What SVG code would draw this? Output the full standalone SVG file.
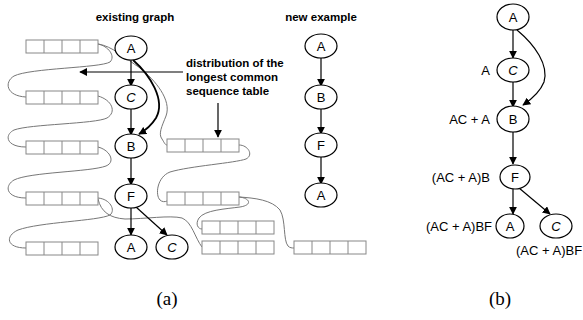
<svg xmlns="http://www.w3.org/2000/svg" xmlns:xlink="http://www.w3.org/1999/xlink" width="583" height="320" viewBox="0 0 583 320">
<style>
.nd{fill:#fff;stroke:#000;stroke-width:1.2}
.lb{font-family:"Liberation Sans",Arial,sans-serif;font-size:13px;text-anchor:middle;fill:#000}
.it{font-style:italic}
.hd{font-family:"Liberation Sans",Arial,sans-serif;font-size:11.5px;font-weight:bold;fill:#000}
.sm{font-family:"Liberation Sans",Arial,sans-serif;font-size:13px;fill:#000}
.cap{font-family:"Liberation Serif","Times New Roman",serif;font-size:19px;text-anchor:middle;fill:#000}
.ar{fill:none;stroke:#000;stroke-width:1.2;marker-end:url(#ah)}
.ar2{fill:none;stroke:#000;stroke-width:1.8;marker-end:url(#ah)}
.cv{fill:none;stroke:#777;stroke-width:1}
.tb{fill:#fff;stroke:#888;stroke-width:1}
</style>
<defs>
<marker id="ah" viewBox="0 0 10 10" refX="9" refY="5" markerWidth="8" markerHeight="8" markerUnits="userSpaceOnUse" orient="auto">
<path d="M0,0 L10,5 L0,10 z" fill="#000"/>
</marker>
<g id="tbl">
<rect class="tb" x="0" y="0" width="72" height="13"/>
<path d="M18,0V13M36,0V13M54,0V13" stroke="#888" stroke-width="1"/>
</g>
</defs>

<g id="curves">
<path class="cv" d="M98,44 C108,46 116,56 110,62 C100,68 30,68 14,76 C4,82 6,96 26,97"/>
<path class="cv" d="M98,44 C112,46 125,58 140,68 C155,80 172,100 166,116 C162,126 158,134 162,139 C164,142 165,145 167,145"/>
<path class="cv" d="M98,96 C112,100 117,112 107,118 C95,124 30,124 14,130 C4,135 6,147 26,147"/>
<path class="cv" d="M98,147 C110,150 116,162 106,166 C90,172 30,172 14,180 C4,186 6,198 26,198"/>
<path class="cv" d="M98,198 C110,199 116,210 110,215 C98,221 40,222 18,230 C5,236 6,248 26,248"/>
<path class="cv" d="M98,199 C101,212 110,218 125,219 C145,219 170,215 182,218 C192,222 195,238 202,247"/>
<path class="cv" d="M239,145 C248,145 254,155 246,159 C235,163 190,166 170,172 C157,177 155,195 160,200 C162,202 165,202 167,201"/>
<path class="cv" d="M239,197 C250,198 253,205 240,207 C225,209 205,210 199,218 C195,224 198,229 202,229"/>
<path class="cv" d="M239,197 C255,198 272,200 280,210 C286,220 283,240 288,246 C290,248 292,248 294,248"/>
</g>

<g id="tables">
<use xlink:href="#tbl" x="26" y="40"/>
<use xlink:href="#tbl" x="26" y="91"/>
<use xlink:href="#tbl" x="26" y="141"/>
<use xlink:href="#tbl" x="26" y="192"/>
<use xlink:href="#tbl" x="26" y="242"/>
<use xlink:href="#tbl" x="167" y="139"/>
<use xlink:href="#tbl" x="167" y="192"/>
<use xlink:href="#tbl" x="202" y="221"/>
<use xlink:href="#tbl" x="202" y="241"/>
<use xlink:href="#tbl" x="294" y="241"/>
</g>

<g id="connectors">
<path class="ar" d="M131,60 V86"/>
<path class="ar" d="M131,109 V135"/>
<path class="ar2" d="M133,60 C150,75 166,100 156,118 C151,126 146,130 139,134"/>
<path class="ar" d="M131,158 V185"/>
<path class="ar" d="M131,208 V235"/>
<path class="ar" d="M136,207 L167,235"/>
<path class="ar" d="M183,72 H80"/>
<path class="ar" d="M218,103 V137"/>
<path class="ar" d="M321,58 V86"/>
<path class="ar" d="M321,109 V134"/>
<path class="ar" d="M321,157 V184"/>
<path class="ar" d="M513,30 V58"/>
<path class="ar" d="M517,30 C535,45 549,65 544,82 C540,92 532,99 523,105"/>
<path class="ar" d="M513,82 V107"/>
<path class="ar" d="M513,132 V164"/>
<path class="ar" d="M513,189 V214"/>
<path class="ar" d="M519,188 L550,214"/>
</g>

<g id="a_A1"><ellipse class="nd" cx="131" cy="48" rx="16" ry="12"/><text class="lb" x="131" y="53">A</text></g>
<g id="a_C"><ellipse class="nd" cx="131" cy="97" rx="16" ry="12"/><text class="lb it" x="131" y="102">C</text></g>
<g id="a_B"><ellipse class="nd" cx="131" cy="146" rx="16" ry="12"/><text class="lb" x="131" y="151">B</text></g>
<g id="a_F"><ellipse class="nd" cx="131" cy="196" rx="16" ry="12"/><text class="lb" x="131" y="201">F</text></g>
<g id="a_A2"><ellipse class="nd" cx="131" cy="247" rx="16" ry="12"/><text class="lb" x="131" y="252">A</text></g>
<g id="a_C2"><ellipse class="nd" cx="172" cy="247" rx="16" ry="12"/><text class="lb it" x="172" y="252">C</text></g>

<g id="n_A1"><ellipse class="nd" cx="321" cy="46" rx="16" ry="12"/><text class="lb" x="321" y="51">A</text></g>
<g id="n_B"><ellipse class="nd" cx="321" cy="97" rx="16" ry="12"/><text class="lb" x="321" y="102">B</text></g>
<g id="n_F"><ellipse class="nd" cx="321" cy="145" rx="16" ry="12"/><text class="lb" x="321" y="150">F</text></g>
<g id="n_A2"><ellipse class="nd" cx="321" cy="195" rx="16" ry="12"/><text class="lb" x="321" y="200">A</text></g>

<g id="b_A1"><ellipse class="nd" cx="513" cy="17" rx="16" ry="13"/><text class="lb" x="513" y="22">A</text></g>
<g id="b_C"><ellipse class="nd" cx="513" cy="70" rx="16" ry="12"/><text class="lb it" x="513" y="75">C</text></g>
<g id="b_B"><ellipse class="nd" cx="513" cy="119" rx="16" ry="13"/><text class="lb" x="513" y="124">B</text></g>
<g id="b_F"><ellipse class="nd" cx="515" cy="177" rx="15" ry="12"/><text class="lb" x="515" y="182">F</text></g>
<g id="b_A2"><ellipse class="nd" cx="510" cy="226" rx="14" ry="12"/><text class="lb" x="510" y="231">A</text></g>
<g id="b_C2"><ellipse class="nd" cx="556" cy="226" rx="16" ry="12"/><text class="lb it" x="556" y="231">C</text></g>

<g id="texts">
<text class="hd" x="135" y="21" text-anchor="middle">existing graph</text>
<text class="hd" x="321" y="21" text-anchor="middle">new example</text>
<text class="hd" x="186" y="67">distribution of the</text>
<text class="hd" x="186" y="81">longest common</text>
<text class="hd" x="186" y="95">sequence table</text>
<text class="sm" x="490" y="75" text-anchor="end">A</text>
<text class="sm" x="490" y="124" text-anchor="end">AC + A</text>
<text class="sm" x="490" y="182" text-anchor="end">(AC + A)B</text>
<text class="sm" x="492" y="231" text-anchor="end">(AC + A)BF</text>
<text class="sm" x="516" y="255">(AC + A)BF</text>
<text class="cap" x="167" y="305">(a)</text>
<text class="cap" x="500" y="305">(b)</text>
</g>
</svg>
